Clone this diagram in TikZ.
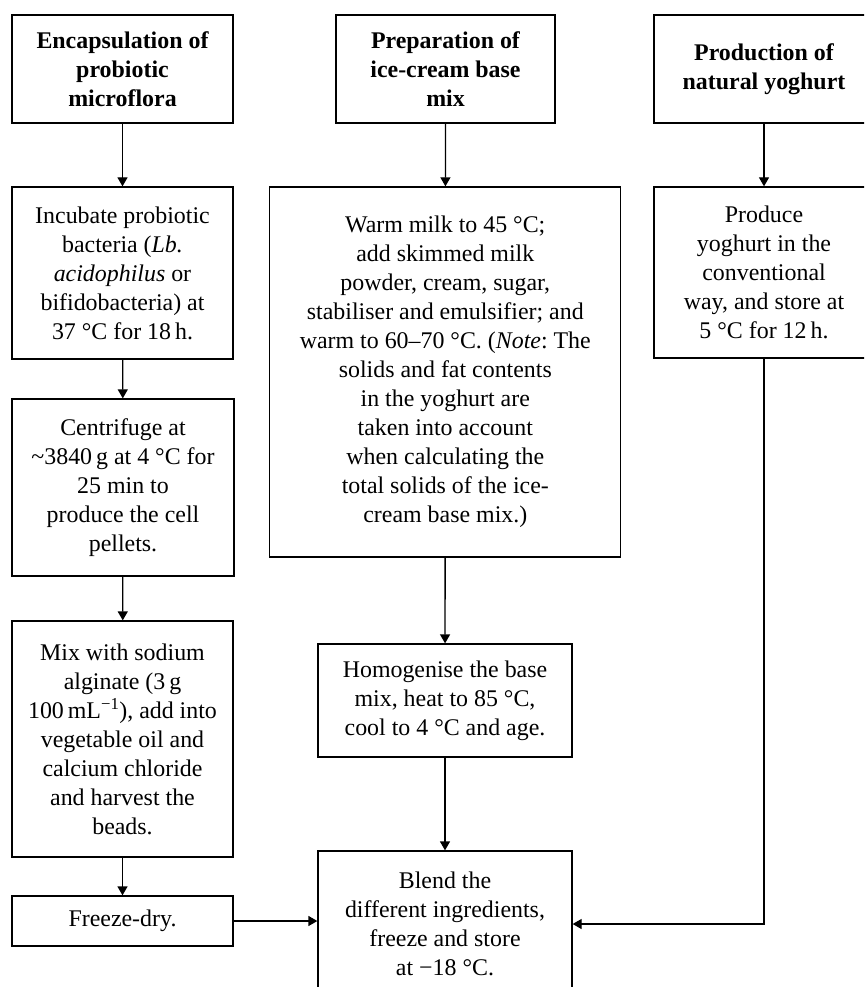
\documentclass[tikz,border=0pt]{standalone}
\usepackage{fontspec}
\setmainfont{Liberation Serif}
\usetikzlibrary{arrows.meta}
\frenchspacing
\tikzset{
  box/.style={draw, line width=1.3pt, inner sep=0pt, align=center,
    font=\fontsize{23.9}{29}\selectfont},
  head/.style={box, font=\fontsize{23.9}{29}\selectfont\bfseries},
  arr/.style={line width=1.3pt, -{Triangle[length=9pt,width=10pt]}},
  conn/.style={line width=1.3pt}
}
\begin{document}
\begin{tikzpicture}[x=1pt,y=-1pt]
\useasboundingbox (0,0) rectangle (864,987);
\begin{scope}
\clip (0,0) rectangle (864,987);
% headers
\node[head, minimum width=221pt, minimum height=108pt] (h1) at (122.5,69) {Encapsulation of\\probiotic\\microflora};
\node[head, minimum width=219pt, minimum height=108pt] (h2) at (445.5,69) {Preparation of\\ice-cream base\\mix};
\node[head, minimum width=220pt, minimum height=108pt] (h3) at (764,69) {Production of\\natural yoghurt};
% column 1
\node[box, minimum width=221pt, minimum height=172pt] (inc) at (122.5,273) {Incubate probiotic\\bacteria (\textit{Lb.}\\\textit{acidophilus} or\\bifidobacteria) at\\37 °C for 18\,h.};
\node[box, minimum width=222pt, minimum height=177pt] (cen) at (123,487.5) {Centrifuge at\\\textasciitilde 3840\,g at 4 °C for\\25 min to\\produce the cell\\pellets.};
\node[box, minimum width=221pt, minimum height=236pt] (mix) at (122.5,739) {Mix with sodium\\alginate (3\,g\\100\,mL\textsuperscript{−1}), add into\\vegetable oil and\\calcium chloride\\and harvest the\\beads.};
\node[box, minimum width=221pt, minimum height=50pt] (fd) at (122.5,921) {Freeze-dry.};
% column 2
\node[box, minimum width=351pt, minimum height=370pt] (warm) at (445.3,372) {Warm milk to 45 °C;\\add skimmed milk\\powder, cream, sugar,\\stabiliser and emulsifier; and\\warm to 60–70 °C. (\textit{Note}: The\\solids and fat contents\\in the yoghurt are\\taken into account\\when calculating the\\total solids of the ice-\\cream base mix.)};
\node[box, minimum width=254pt, minimum height=113pt] (hom) at (445,700.5) {Homogenise the base\\mix, heat to 85 °C,\\cool to 4 °C and age.};
\node[box, minimum width=254pt, minimum height=146pt] (blend) at (445,924) {Blend the\\different ingredients,\\freeze and store\\at −18 °C.};
% column 3
\node[box, minimum width=220pt, minimum height=171pt] (prod) at (764,272.5) {Produce\\yoghurt in the\\conventional\\way, and store at\\5 °C for 12\,h.};
\end{scope}
% connectors
\draw[arr] (h1) -- (inc);
\draw[arr] (inc) -- (cen);
\draw[arr] (cen) -- (mix);
\draw[arr] (mix) -- (fd);
\draw[arr] (h2) -- (warm);
\draw[arr] (warm) -- (hom);
\draw[arr] (hom) -- (blend);
\draw[arr] (h3) -- (prod);
\draw[arr] (fd.east) -- (fd.east -| blend.west);
\draw[arr] (prod.south) |- (blend.east);
\end{tikzpicture}
\end{document}
